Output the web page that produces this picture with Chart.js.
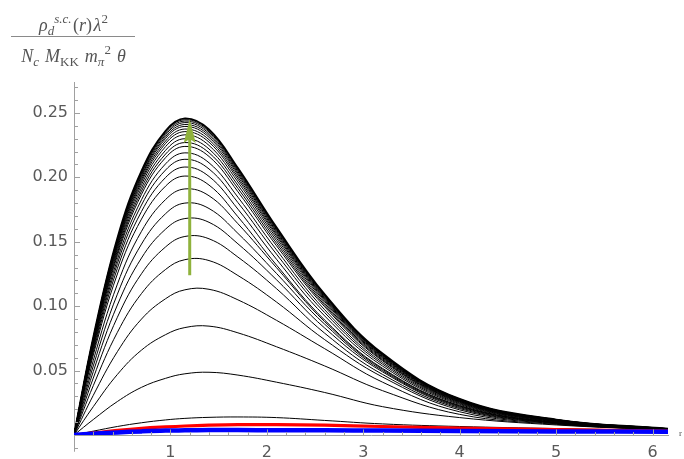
<!DOCTYPE html>
<html>
<head>
<meta charset="utf-8">
<script src="https://cdn.jsdelivr.net/npm/chart.js@4.4.1/dist/chart.umd.min.js"></script>
<style>
  html, body { margin: 0; padding: 0; background: #fff; }
  #wrap { position: relative; width: 684px; height: 459px; }
  #frac { position: absolute; left: 8px; top: 0; width: 131px; font-family: "Liberation Serif", serif; font-size: 18px; color: #555555; text-align: center; }
  #frac .num { position: absolute; left: 0; width: 100%; top: 14px; line-height: 22px; white-space: nowrap; }
  #frac .bar { position: absolute; left: 3px; width: 124px; top: 36px; height: 1px; background: #8a8a8a; }
  #frac .den { position: absolute; left: 0; width: 100%; top: 45px; line-height: 22px; white-space: nowrap; }
  #frac .den .gap { display: inline-block; width: 6px; }
  #frac sub, #frac sup { font-size: 13px; line-height: 0; position: relative; vertical-align: baseline; }
  #frac sub { top: 4px; }
  #frac sup { top: -8px; }
  #rlabel { position: absolute; left: 679px; top: 428px; font-family: "Liberation Serif", serif; font-size: 9px; color: #505050; }
</style>
</head>
<body>
<div id="wrap">
  <canvas id="myChart" width="684" height="459"></canvas>
  <div id="frac">
    <div class="num"><i>ρ</i><sub><i>d</i></sub><sup><i>s.c.</i></sup>&#8202;(<i>r</i>)&#8202;<i>λ</i><sup>2</sup></div>
    <div class="bar"></div>
    <div class="den"><i>N</i><sub><i>c</i></sub><span class="gap"></span><i>M</i><sub>KK</sub><span class="gap"></span><i>m</i><sub><i>π</i></sub><sup>2</sup><span class="gap"></span><i>θ</i></div>
  </div>
  <div id="rlabel">r</div>
</div>
<script>
const rGrid = [0, 0.2, 0.45, 0.7, 0.95, 1.15, 1.4, 1.7, 2.1, 2.6, 3.2, 4.0, 5.0, 6.16];

const blueSeries = [0, 0.0010, 0.0020, 0.0028, 0.0034, 0.0036, 0.0038, 0.0038, 0.0037, 0.0036, 0.0034, 0.0031, 0.0028, 0.0025];
const redSeries = [0, 0.0016, 0.0036, 0.0052, 0.0063, 0.0070, 0.0076, 0.0080, 0.0080, 0.0076, 0.0066, 0.0054, 0.0042, 0.0030];

// black family, lowest curve first
const blackSeries = [
  [0, 0.0030, 0.0066, 0.0095, 0.0117, 0.0129, 0.0137, 0.0140, 0.0135, 0.0113, 0.0086, 0.0066, 0.0050, 0.0033],
  [0, 0.0120, 0.0260, 0.0370, 0.0440, 0.0475, 0.0487, 0.0465, 0.0410, 0.0330, 0.0220, 0.0135, 0.0078, 0.0038],
  [0, 0.0220, 0.0470, 0.0659, 0.0779, 0.0834, 0.0845, 0.0793, 0.0685, 0.0536, 0.0344, 0.0160, 0.0083, 0.0039],
  [0, 0.0308, 0.0647, 0.0900, 0.1058, 0.1127, 0.1131, 0.1049, 0.0890, 0.0670, 0.0410, 0.0180, 0.0087, 0.0039],
  [0, 0.0383, 0.0797, 0.1098, 0.1285, 0.1361, 0.1354, 0.1238, 0.1032, 0.0740, 0.0450, 0.0195, 0.0090, 0.0039],
  [0, 0.0442, 0.0914, 0.1252, 0.1460, 0.1541, 0.1523, 0.1381, 0.1136, 0.0790, 0.0470, 0.0205, 0.0092, 0.0039],
  [0, 0.0492, 0.1009, 0.1374, 0.1598, 0.1680, 0.1651, 0.1484, 0.1205, 0.0830, 0.0490, 0.0213, 0.0094, 0.0039],
  [0, 0.0536, 0.1093, 0.1482, 0.1718, 0.1800, 0.1758, 0.1565, 0.1254, 0.0860, 0.0500, 0.0220, 0.0096, 0.0039],
  [0, 0.0578, 0.1171, 0.1581, 0.1828, 0.1910, 0.1857, 0.1640, 0.1299, 0.0880, 0.0510, 0.0225, 0.0097, 0.0039],
  [0, 0.0621, 0.1250, 0.1676, 0.1932, 0.2010, 0.1940, 0.1694, 0.1319, 0.0892, 0.0517, 0.0229, 0.0098, 0.0040],
  [0, 0.0643, 0.1294, 0.1735, 0.1999, 0.2080, 0.2007, 0.1753, 0.1364, 0.0924, 0.0535, 0.0237, 0.0102, 0.0042],
  [0, 0.0661, 0.1331, 0.1785, 0.2057, 0.2140, 0.2065, 0.1804, 0.1404, 0.0950, 0.0550, 0.0244, 0.0105, 0.0043],
  [0, 0.0677, 0.1362, 0.1826, 0.2105, 0.2190, 0.2113, 0.1846, 0.1437, 0.0972, 0.0563, 0.0250, 0.0107, 0.0044],
  [0, 0.0692, 0.1393, 0.1868, 0.2153, 0.2240, 0.2162, 0.1888, 0.1469, 0.0995, 0.0576, 0.0255, 0.0110, 0.0045],
  [0, 0.0701, 0.1412, 0.1893, 0.2181, 0.2270, 0.2191, 0.1914, 0.1489, 0.1008, 0.0583, 0.0259, 0.0111, 0.0045],
  [0, 0.0711, 0.1431, 0.1918, 0.2210, 0.2300, 0.2220, 0.1939, 0.1509, 0.1021, 0.0591, 0.0262, 0.0113, 0.0046],
  [0, 0.0720, 0.1449, 0.1943, 0.2239, 0.2330, 0.2248, 0.1964, 0.1528, 0.1035, 0.0599, 0.0266, 0.0114, 0.0047],
  [0, 0.0728, 0.1465, 0.1964, 0.2263, 0.2355, 0.2273, 0.1985, 0.1545, 0.1046, 0.0605, 0.0268, 0.0115, 0.0047],
  [0, 0.0734, 0.1477, 0.1981, 0.2282, 0.2375, 0.2292, 0.2002, 0.1558, 0.1055, 0.0610, 0.0271, 0.0116, 0.0048],
  [0, 0.0740, 0.1490, 0.1997, 0.2302, 0.2395, 0.2311, 0.2019, 0.1571, 0.1063, 0.0616, 0.0273, 0.0117, 0.0048],
  [0, 0.0745, 0.1499, 0.2010, 0.2316, 0.2410, 0.2326, 0.2032, 0.1581, 0.1070, 0.0619, 0.0275, 0.0118, 0.0048],
  [0, 0.0749, 0.1508, 0.2022, 0.2330, 0.2425, 0.2340, 0.2044, 0.1591, 0.1077, 0.0623, 0.0276, 0.0119, 0.0049],
  [0, 0.0753, 0.1516, 0.2032, 0.2342, 0.2437, 0.2352, 0.2054, 0.1599, 0.1082, 0.0626, 0.0278, 0.0119, 0.0049],
  [0, 0.0756, 0.1522, 0.2041, 0.2352, 0.2447, 0.2361, 0.2063, 0.1605, 0.1086, 0.0629, 0.0279, 0.0120, 0.0049],
  [0, 0.0760, 0.1529, 0.2050, 0.2362, 0.2458, 0.2372, 0.2072, 0.1612, 0.1091, 0.0632, 0.0280, 0.0120, 0.0049]
];

const xTickValues = [1, 2, 3, 4, 5, 6];
const yTickValues = [0.05, 0.10, 0.15, 0.20, 0.25];

// green arrow: r position, start and end value
const arrowR = 1.2;
const arrowFrom = 0.124;
const arrowTo = 0.2453;

const xMax = 6.16;
const yMax = 0.274;
const yAxisLow = -0.013;

const axisColor = "#a0a0a0";
const labelColor = "#595959";
const arrowColor = "#8fb23c";

const toPoints = (series) => rGrid.map((r, i) => ({ x: r, y: series[i] }));

const makeLine = (series, color, width) => ({
  data: toPoints(series),
  borderColor: color,
  borderWidth: width,
  pointRadius: 0,
  fill: false,
  tension: 0.4
});

const datasets = [
  makeLine(blueSeries, "#0000ff", 4.5),
  makeLine(redSeries, "#ff0000", 3.2)
];
blackSeries.forEach((s, i) => {
  const top = i === blackSeries.length - 1;
  datasets.push(makeLine(s, "#000000", top ? 1.8 : 1));
});

const axisExtras = {
  id: "axisExtras",
  afterDatasetsDraw(chart) {
    const { ctx } = chart;
    const xs = chart.scales.x;
    const ys = chart.scales.y;
    const x0 = Math.round(xs.getPixelForValue(0)) + 0.5;
    const y0 = Math.round(ys.getPixelForValue(0)) + 0.5;

    ctx.save();
    ctx.strokeStyle = axisColor;
    ctx.lineWidth = 1;
    ctx.beginPath();
    for (let k = 1; k * 0.2 <= xMax; k++) {
      const px = Math.round(xs.getPixelForValue(k * 0.2)) + 0.5;
      const len = k % 5 === 0 ? 6 : 3.5;
      ctx.moveTo(px, y0);
      ctx.lineTo(px, y0 - len);
    }
    for (let k = -1; k * 0.01 <= yMax; k++) {
      if (k === 0) continue;
      const py = Math.round(ys.getPixelForValue(k * 0.01)) + 0.5;
      const len = k % 5 === 0 ? 5.5 : 3.5;
      ctx.moveTo(x0, py);
      ctx.lineTo(x0 + len, py);
    }
    ctx.moveTo(x0, y0);
    ctx.lineTo(x0, ys.getPixelForValue(yAxisLow));
    ctx.stroke();

    // arrow
    const ax = xs.getPixelForValue(arrowR);
    const ay1 = ys.getPixelForValue(arrowFrom);
    const ay2 = ys.getPixelForValue(arrowTo);
    ctx.strokeStyle = arrowColor;
    ctx.fillStyle = arrowColor;
    ctx.lineWidth = 3;
    ctx.beginPath();
    ctx.moveTo(ax, ay1);
    ctx.lineTo(ax, ay2 + 18);
    ctx.stroke();
    ctx.beginPath();
    ctx.moveTo(ax, ay2);
    ctx.lineTo(ax - 6, ay2 + 24);
    ctx.lineTo(ax, ay2 + 20);
    ctx.lineTo(ax + 6, ay2 + 24);
    ctx.closePath();
    ctx.fill();
    ctx.restore();
  }
};

const ctx = document.getElementById("myChart").getContext("2d");
const myChart = new Chart(ctx, {
  type: "line",
  data: { datasets: datasets },
  options: {
    responsive: false,
    animation: false,
    devicePixelRatio: 1,
    layout: { padding: { top: 82, right: 16, left: 0, bottom: 0 } },
    plugins: { legend: { display: false }, tooltip: { enabled: false } },
    scales: {
      x: {
        type: "linear",
        min: 0,
        max: xMax,
        grid: { display: false, drawTicks: false, tickLength: 0 },
        border: { display: true, color: axisColor, width: 1 },
        afterBuildTicks: (scale) => { scale.ticks = xTickValues.map(v => ({ value: v })); },
        afterFit: (scale) => { scale.height = 24; },
        ticks: {
          padding: 8,
          color: labelColor,
          font: { family: "DejaVu Sans", size: 16 },
          maxRotation: 0,
          autoSkip: false,
          callback: (v) => String(v)
        }
      },
      y: {
        type: "linear",
        min: 0,
        max: yMax,
        grid: { display: false, drawTicks: false, tickLength: 0 },
        border: { display: true, color: axisColor, width: 1 },
        afterBuildTicks: (scale) => { scale.ticks = yTickValues.map(v => ({ value: v })); },
        afterFit: (scale) => { scale.width = 74; },
        ticks: {
          padding: 6,
          color: labelColor,
          font: { family: "DejaVu Sans", size: 16 },
          autoSkip: false,
          callback: (v) => v.toFixed(2)
        }
      }
    }
  },
  plugins: [axisExtras]
});
</script>
</body>
</html>
